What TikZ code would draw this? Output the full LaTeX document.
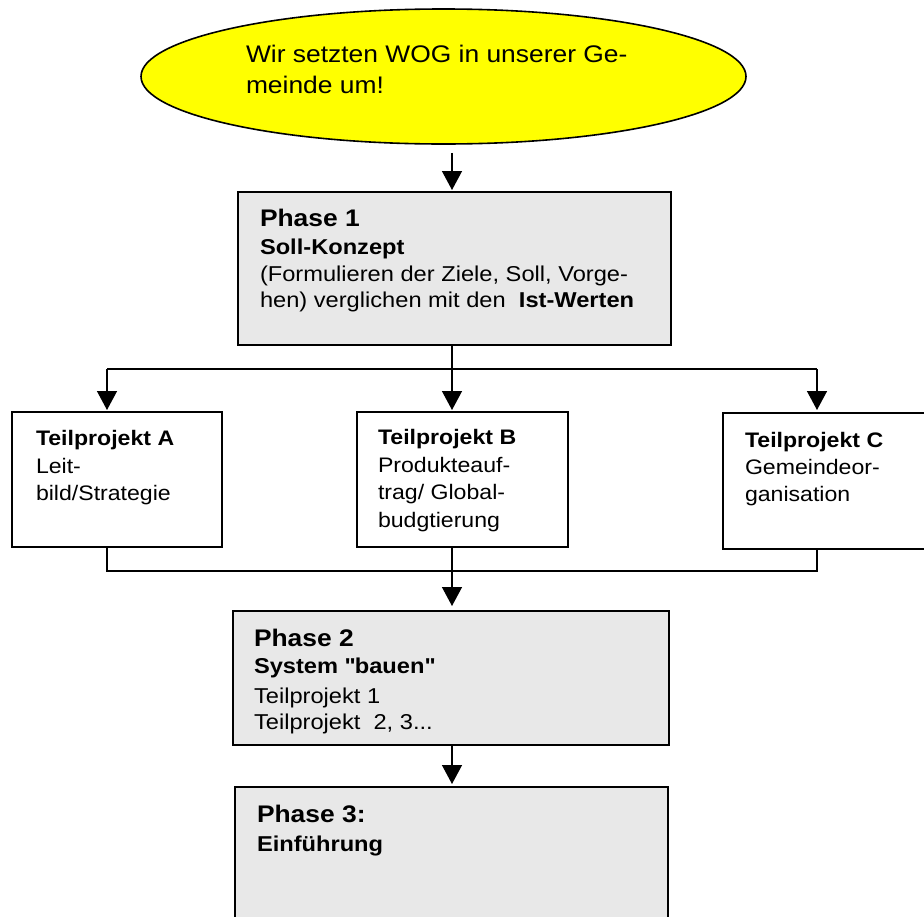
\documentclass[tikz,border=0pt]{standalone}
\usepackage{fontspec}
\setmainfont{Liberation Sans}[FakeStretch=1.1]
\usetikzlibrary{arrows.meta,shapes.geometric}

\definecolor{goalyellow}{HTML}{FFFF00}
\definecolor{phasegray}{HTML}{E8E8E8}

\begin{document}
\begin{tikzpicture}[x=1pt,y=-1pt,
  frame/.style={draw, line width=1.6pt, inner sep=0pt, outer sep=0pt, anchor=north west},
  phasebox/.style={frame, fill=phasegray},
  partbox/.style={frame, fill=white},
  line/.style={anchor=base west, inner sep=0pt, outer sep=0pt},
  goalfont/.style={font=\fontsize{24}{31}\selectfont},
  titlefont/.style={font=\fontsize{24}{28}\selectfont\bfseries},
  subfont/.style={font=\fontsize{21.5}{26}\selectfont\bfseries},
  bodyfont/.style={font=\fontsize{21.5}{26}\selectfont},
  parttitle/.style={font=\fontsize{21}{26}\selectfont\bfseries},
  partbody/.style={font=\fontsize{21}{26}\selectfont},
  conn/.style={line width=1.4pt},
  arr/.style={conn, -{Triangle[length=19pt,width=20pt]}}
]
\clip (0,0) rectangle (924,916);
\fill[white] (0,0) rectangle (924,916);

% goal ellipse
\node[ellipse, draw, line width=1.6pt, fill=goalyellow, minimum width=605pt,
      minimum height=135pt, inner sep=0pt] (goal) at (443.5,76.5) {};
\node[line, goalfont] (g1) at (246,62) {Wir setzten WOG in unserer Ge-};
\node[line, goalfont] (g2) at (246,93) {meinde um!};

% phase 1
\node[phasebox, minimum width=433pt, minimum height=153pt] (p1) at (238,192) {};
\node[line, titlefont] (p1a) at (260,226) {Phase 1};
\node[line, subfont]   (p1b) at (260,254) {Soll-Konzept};
\node[line, bodyfont]  (p1c) at (260,281) {(Formulieren der Ziele, Soll, Vorge-};
\node[line, bodyfont]  (p1d) at (260,307) {hen) verglichen mit den\ \ \textbf{Ist-Werten}};

% sub-projects
\node[partbox, minimum width=210pt, minimum height=135pt] (tA) at (12,412) {};
\node[line, parttitle] (tA1) at (36,445) {Teilprojekt A};
\node[line, partbody]  (tA2) at (36,473) {Leit-};
\node[line, partbody]  (tA3) at (36,500) {bild/Strategie};

\node[partbox, minimum width=211pt, minimum height=135pt] (tB) at (357,412) {};
\node[line, parttitle] (tB1) at (378,444) {Teilprojekt B};
\node[line, partbody]  (tB2) at (378,472) {Produkteauf-};
\node[line, partbody]  (tB3) at (378,499) {trag/ Global-};
\node[line, partbody]  (tB4) at (378,527) {budgtierung};

\node[partbox, minimum width=212pt, minimum height=136pt] (tC) at (723,413) {};
\node[line, parttitle] (tC1) at (745,447) {Teilprojekt C};
\node[line, partbody]  (tC2) at (745,474) {Gemeindeor-};
\node[line, partbody]  (tC3) at (745,501) {ganisation};

% phase 2
\node[phasebox, minimum width=436pt, minimum height=134pt] (p2) at (233,611) {};
\node[line, titlefont] (p2a) at (254,646) {Phase 2};
\node[line, subfont]   (p2b) at (254,673) {System \textquotedbl bauen\textquotedbl};
\node[line, bodyfont]  (p2c) at (254,703) {Teilprojekt 1};
\node[line, bodyfont]  (p2d) at (254,729) {Teilprojekt\ \ 2, 3...};

% phase 3
\node[phasebox, minimum width=433pt, minimum height=150pt] (p3) at (235,787) {};
\node[line, titlefont] (p3a) at (257,822) {Phase 3:};
\node[line, subfont]   (p3b) at (257,851) {Einführung};

% junction points of the connectors
\coordinate (spine) at (452,369);
\coordinate (aTop) at (107,369);
\coordinate (cTop) at (817,369);
\coordinate (aBot) at (107,571);
\coordinate (cBot) at (817,571);
\coordinate (join) at (452,571);

% connectors
\draw[arr, shorten >=2pt] ([yshift=-8pt]goal.south -| spine) -- (spine |- p1.north);
\draw[conn] (aTop) -- (cTop);
\draw[arr, shorten >=2pt] (p1.south -| spine) -- (spine |- tB.north);
\draw[arr, shorten >=2pt] (aTop) -- (aTop |- tA.north);
\draw[arr, shorten >=3pt] (cTop) -- (cTop |- tC.north);
\draw[conn] (aBot |- tA.south) -- (aBot) -- (cBot) -- (cBot |- tC.south);
\draw[arr, shorten >=5pt] (tB.south -| join) -- (join |- p2.north);
\draw[arr, shorten >=3pt] (p2.south -| join) -- (join |- p3.north);
\end{tikzpicture}
\end{document}
